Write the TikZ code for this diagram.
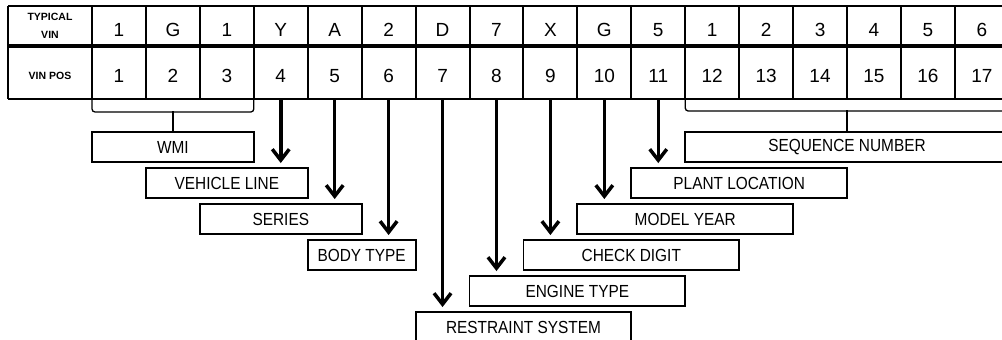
\documentclass[tikz,border=0pt]{standalone}
\usepackage{fontspec}
\setmainfont{Liberation Sans}
\newfontfamily\labfont[FakeStretch=0.88]{Liberation Sans}
\usetikzlibrary{arrows.meta}
\begin{document}
\begin{tikzpicture}[x=1pt,y=-1pt,
  grid/.style={line width=2pt},
  midline/.style={line width=4pt},
  cell/.style={inner sep=0pt,font=\fontsize{19}{22}\selectfont},
  hdr/.style={inner sep=0pt,align=center,font=\bfseries\fontsize{10.5}{18}\selectfont},
  lab/.style={draw,line width=1.9pt,minimum height=30pt,inner sep=0pt,font=\labfont\fontsize{17.5}{20}\selectfont},
  arr/.style={line width=3.5pt,-{Straight Barb[length=11pt,width=17pt]},shorten >=4pt},
  brk/.style={line width=1.3pt}]
\useasboundingbox (0,0) rectangle (1002,340);
% table grid
\draw[grid] (8,6) -- (1008.8,6);
\draw[grid] (8,99) -- (1008.8,99);
\draw[midline] (8,46) -- (1008.8,46);
\draw[grid] (8,6) -- (8,99);
\foreach \k in {0,...,17}
  \draw[grid] ({92+53.93*\k},6) -- ({92+53.93*\k},99);
% header column
\node[hdr] (hd1) at (50,17) {TYPICAL};
\node[hdr] (hd2) at (50,35) {VIN};
\node[hdr] (hd3) at (50,76) {VIN POS};
% cells
\foreach \t [count=\i] in {1,G,1,Y,A,2,D,7,X,G,5,1,2,3,4,5,6}
  \node[cell] (v\i) at ({92+53.93*(\i-0.5)},30) {\t};
\foreach \i in {1,...,17} {
  \node[cell] (p\i) at ({92+53.93*(\i-0.5)},76) {\i};
  \coordinate (pb\i) at ({92+53.93*(\i-0.5)},99);
}
\coordinate (bk0) at (92,99);
\coordinate (bk3) at (253.79,99);
\coordinate (bk11) at (685.23,99);
\coordinate (bk17) at (1008.81,99);
% label boxes
\node[lab,minimum width=161.8pt] (wmi) at (172.9,147) {WMI};
\node[lab,minimum width=161.8pt] (vl) at (226.86,183) {VEHICLE LINE};
\node[lab,minimum width=161.8pt] (ser) at (280.8,219) {SERIES};
\node[lab,minimum width=107.9pt] (body) at (361.65,255) {BODY TYPE};
\node[lab,minimum width=215.7pt] (rest) at (523.44,327) {RESTRAINT SYSTEM};
\node[lab,minimum width=215.7pt] (eng) at (577.37,291) {ENGINE TYPE};
\node[lab,minimum width=215.7pt] (chk) at (631.3,255) {CHECK DIGIT};
\node[lab,minimum width=215.7pt] (my) at (685.23,219) {MODEL YEAR};
\node[lab,minimum width=215.7pt] (pl) at (739.16,183) {PLANT LOCATION};
\node[lab,minimum width=323.6pt] (seq) at (847.02,147) {SEQUENCE NUMBER};
% brackets
\draw[brk,rounded corners=3pt] (bk0) -- ++(0,13) -| (bk3);
\draw[brk] (wmi.north) -- ++(0,-20);
\draw[brk,rounded corners=3pt] (bk11) -- ++(0,12) -| (bk17);
\draw[brk] (seq.north) -- ++(0,-21);
% arrows
\draw[arr] (pb4) -- (pb4 |- vl.north);
\draw[arr] (pb5) -- (pb5 |- ser.north);
\draw[arr] (pb6) -- (pb6 |- body.north);
\draw[arr] (pb7) -- (pb7 |- rest.north);
\draw[arr] (pb8) -- (pb8 |- eng.north);
\draw[arr] (pb9) -- (pb9 |- chk.north);
\draw[arr] (pb10) -- (pb10 |- my.north);
\draw[arr] (pb11) -- (pb11 |- pl.north);
\end{tikzpicture}
\end{document}
